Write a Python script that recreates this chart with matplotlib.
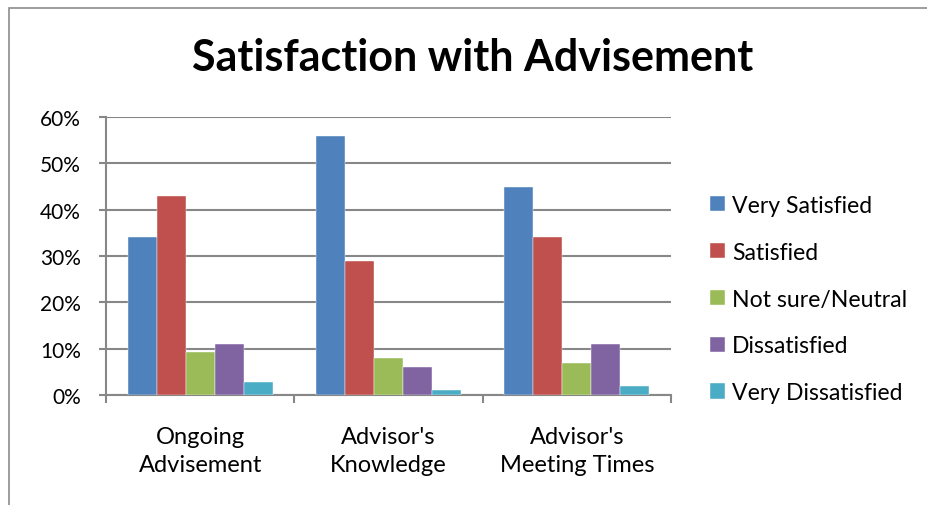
import numpy as np
import matplotlib
matplotlib.use("Agg")
import matplotlib.pyplot as plt
from matplotlib.patches import Rectangle
from matplotlib.ticker import PercentFormatter

categories = ["Ongoing\nAdvisement", "Advisor's\nKnowledge", "Advisor's\nMeeting Times"]
series_names = ["Very Satisfied", "Satisfied", "Not sure/Neutral", "Dissatisfied", "Very Dissatisfied"]
very_satisfied = [34, 56, 45]
satisfied = [43, 29, 34]
neutral = [9.3, 8, 7]
dissatisfied = [11, 6, 11]
very_dissatisfied = [2.7, 1, 2]
colors = ["#4F81BD", "#C0504D", "#9BBB59", "#8064A2", "#4BACC6"]

plt.rcParams['font.family'] = ['Lato', 'DejaVu Sans']

fig = plt.figure(figsize=(9.27, 5.06), dpi=100)
ax = fig.add_axes([106 / 927, 1 - 396 / 506, 565 / 927, 278 / 506])

# outer chart border (partly cropped in the original)
fig.patches.append(Rectangle((9 / 927, -0.1), 1.2, 1 - 9 / 506 + 0.1, transform=fig.transFigure,
                             fill=False, edgecolor="#8c8c8c", linewidth=1.2))

x = np.arange(len(categories))
w = 0.154
all_vals = [very_satisfied, satisfied, neutral, dissatisfied, very_dissatisfied]
for i, (vals, name) in enumerate(zip(all_vals, series_names)):
    ax.bar(x + (i - 2) * w, vals, width=w, color=colors[i], label=name,
           edgecolor="white", linewidth=0.3, zorder=3)

ax.set_xlim(-0.5, 2.5)
ax.set_ylim(0, 60)
ax.set_yticks(range(0, 61, 10))
ax.yaxis.set_major_formatter(PercentFormatter(decimals=0))
ax.grid(axis="y", color="#878787", linewidth=1.5, zorder=0)
ax.set_xticks([-0.5, 0.5, 1.5, 2.5])
ax.set_xticklabels([])
ax.set_xticks(x, minor=True)
ax.set_xticklabels(categories, minor=True, fontsize=17, linespacing=1.42)
ax.tick_params(axis="x", which="minor", length=0, pad=22)
ax.tick_params(axis="x", which="major", length=6, width=1.5, color="#878787")
ax.tick_params(axis="y", length=5, width=1.5, color="#878787", labelsize=15, pad=13)
for s in ["top", "right"]:
    ax.spines[s].set_visible(False)
for s in ["left", "bottom"]:
    ax.spines[s].set_color("#878787")
    ax.spines[s].set_linewidth(1.5)

fig.text(473 / 927, 1 - 58 / 506, "Satisfaction with Advisement", ha="center", va="center",
         fontsize=31, fontweight="bold")

ax.legend(loc="center left", bbox_to_anchor=(710 / 927, 1 - 300 / 506), bbox_transform=fig.transFigure,
          frameon=False, fontsize=16.6, handlelength=0.65, handleheight=0.65, handletextpad=0.3,
          labelspacing=1.12, borderaxespad=0, borderpad=0)

fig.savefig("out.png", dpi=100)
